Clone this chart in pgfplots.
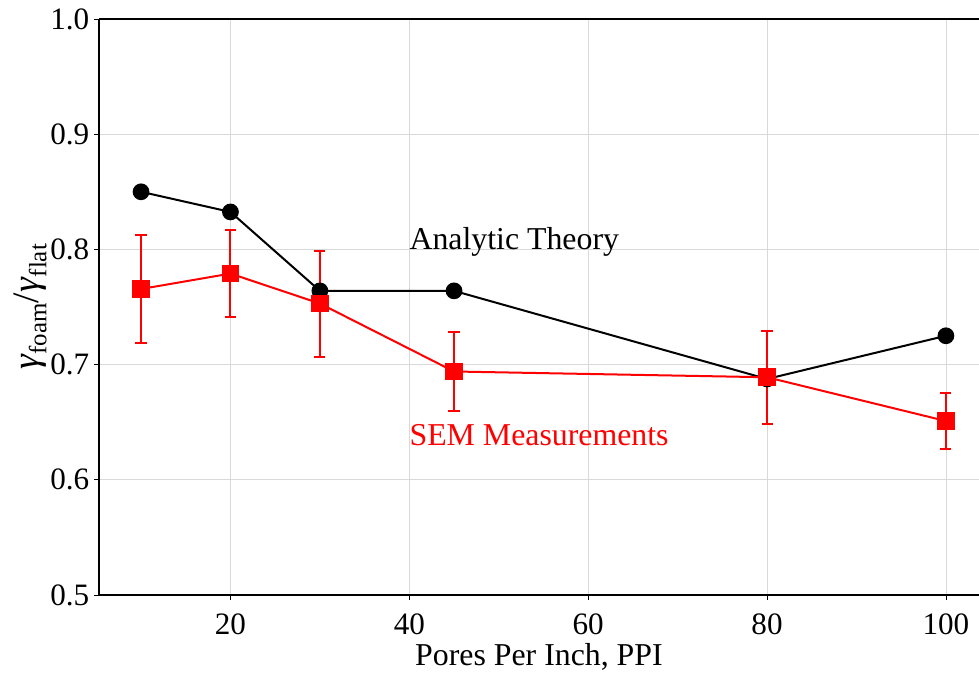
\documentclass[border=0pt]{standalone}
\usepackage{fontspec}
\setmainfont{Liberation Serif}
\usepackage{pgfplots}
\pgfplotsset{compat=1.18}
\usetikzlibrary{calc}
\begin{document}
\begin{tikzpicture}
\begin{axis}[
  name=ax,
  scale only axis,
  width=633.6bp, height=414.7bp,
  xmin=5.3, xmax=103.7,
  ymin=0.5, ymax=1.0,
  axis x line=box,
  axis y line*=left,
  xtick={20,40,60,80,100},
  ytick={0.5,0.6,0.7,0.8,0.9,1.0},
  yticklabel style={/pgf/number format/.cd,fixed,fixed zerofill,precision=1},
  /pgf/number format/assume math mode=true,
  tick label style={font=\fontsize{22.5}{27}\selectfont},
  xticklabel style={anchor=base, yshift=-25.2bp},
  label style={font=\fontsize{23}{28}\selectfont},
  tick align=outside,
  major tick length=3.5bp,
  tick style={black, line width=0.6bp},
  xtick pos=bottom, ytick pos=left,
  axis line style={line width=0.8bp},
  grid=major,
  grid style={color=gray!30, line width=0.6bp},
  xlabel={Pores Per Inch, PPI},
  ylabel={\textit{γ}\raisebox{-0.22em}{\fontsize{18}{20}\selectfont foam}/\textit{γ}\raisebox{-0.22em}{\fontsize{18}{20}\selectfont flat}},
  xlabel style={at={(axis description cs:0.5,0)}, anchor=base, yshift=-51bp},
  ylabel style={at={(axis description cs:0,0.5)}, anchor=center, yshift=49.7bp, font=\fontsize{27}{30}\selectfont},
  clip=false,
]
\addplot[black, line width=1.44bp, mark=*, mark size=5.3bp, mark options={solid}] coordinates {
  (10,0.850) (20,0.8325) (30,0.764) (45,0.764) (80,0.6875) (100,0.725)
};
\addplot[red, line width=1.44bp, mark=square*, mark size=5.6bp,
  error bars/.cd, y dir=both, y explicit,
  error bar style={line width=1.44bp, red},
  error mark options={rotate=90, mark size=4bp, line width=1.44bp, red}]
coordinates {
  (10,0.7656) +- (0,0.0465)
  (20,0.779)  +- (0,0.0375)
  (30,0.753)  +- (0,0.046)
  (45,0.694)  +- (0,0.034)
  (80,0.689)  +- (0,0.0405)
  (100,0.651) +- (0,0.0245)
};
\node[anchor=base west, inner sep=0pt, font=\fontsize{23}{28}\selectfont] at (axis cs:40,0.8) {Analytic Theory};
\node[anchor=base west, inner sep=0pt, red, font=\fontsize{23}{28}\selectfont] at (axis cs:40,0.63) {SEM Measurements};
\end{axis}
\pgfresetboundingbox
\path ($(ax.south west)+(-71.28bp,-56.16bp)$) rectangle ($(ax.north east)+(0,13.68bp)$);
\end{tikzpicture}
\end{document}
